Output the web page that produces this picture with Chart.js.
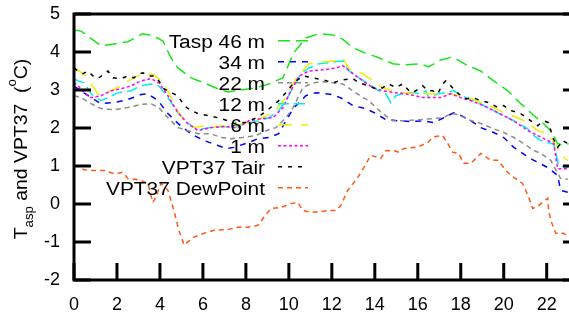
<!DOCTYPE html>
<html>
<head>
<meta charset="utf-8">
<script src="https://cdn.jsdelivr.net/npm/chart.js@4.4.1/dist/chart.umd.min.js"></script>
<style>
  html, body { margin: 0; padding: 0; background: #fff; width: 569px; height: 316px; overflow: hidden; }
  canvas { display: block; }
</style>
</head>
<body>
<canvas id="fig" width="602" height="316"></canvas>
<script>
// ----- data (hour of day, temperature degC) -----
const h46 = [0,0.33,1.26,1.86,2.51,3.2,3.72,4.14,4.51,4.84,5.44,6.05,6.7,7.16,7.53,8.47,9.07,9.72,10.23,10.79,11.4,12.05,12.5,12.98,13.44,14.19,14.84,15.35,16.14,16.5,17.07,17.63,18.33,18.93,19.53,20.19,20.79,21.4,21.81,22.19,22.51,22.79,23.02];
const t46 = [4.58,4.55,4.16,4.21,4.27,4.48,4.42,4.29,3.85,3.58,3.32,3.19,3.03,2.95,2.98,3.06,3.16,3.32,3.98,4.37,4.48,4.45,4.34,4.11,4.0,3.85,3.69,3.66,3.69,3.61,3.79,3.87,3.64,3.5,3.24,2.98,2.64,2.33,2.14,1.93,1.59,1.54,1.59];

const h34 = [0,0.19,0.79,1.26,1.86,2.51,3.12,3.44,3.91,4.37,4.84,5.44,6.05,6.7,7.07,7.44,8.14,8.56,9.07,9.53,9.86,10.23,10.79,11.26,12.05,12.5,12.98,13.58,14.05,14.51,15.12,15.67,16.28,16.74,17.21,17.67,18.0,18.47,18.93,19.53,20.0,20.47,21.02,21.4,22.05,22.51,22.65,22.98];
const t34 = [3.1,3.03,2.8,2.64,2.67,2.75,2.88,2.9,2.72,2.38,2.12,1.85,1.67,1.54,1.46,1.49,1.62,1.72,1.75,1.85,2.19,2.53,2.85,2.93,2.88,2.77,2.59,2.51,2.38,2.22,2.19,2.17,2.19,2.14,2.27,2.4,2.33,2.19,2.01,1.88,1.75,1.49,1.28,1.15,0.96,0.75,0.36,0.31];

const h22 = [0,0.33,0.79,1.26,1.86,2.51,3.12,3.58,3.95,4.37,4.84,5.3,5.77,6.37,6.84,7.3,7.86,8.47,8.93,9.4,9.86,10.19,10.65,11.12,11.58,12.05,12.51,12.98,13.44,13.72,14.05,14.37,14.84,15.3,16.14,16.74,17.21,17.53,17.9,18.33,18.93,19.53,20.0,20.47,20.93,21.4,21.72,22.19,22.51,22.65,22.98];
const t22 = [2.85,2.8,2.64,2.51,2.48,2.54,2.62,2.64,2.54,2.27,2.01,1.93,1.85,1.85,1.75,1.72,1.75,1.8,1.93,2.01,2.27,2.53,3.06,3.19,3.22,3.19,3.16,2.98,2.8,2.72,2.54,2.38,2.19,2.19,2.22,2.25,2.27,2.38,2.35,2.22,2.12,1.98,1.88,1.75,1.59,1.41,1.33,1.15,0.8,0.67,0.65];

const h12 = [0,0.19,0.47,0.79,1.26,1.58,2.05,2.65,3.12,3.58,3.95,4.37,4.84,5.3,5.77,6.37,6.98,7.44,8.0,8.6,9.07,9.53,9.86,10.19,10.56,10.93,11.4,11.86,12.51,12.79,13.26,13.72,14.19,14.51,14.74,14.98,15.44,15.81,16.14,16.37,16.51,16.93,17.4,17.67,17.9,18.33,18.79,19.26,19.72,20.19,20.65,21.12,21.4,21.72,22.05,22.33,22.56,22.98];
const t12 = [3.3,3.24,3.19,2.9,2.72,2.8,2.93,2.98,3.11,3.16,3.11,2.8,2.4,2.12,1.96,2.01,2.04,2.01,2.12,2.19,2.27,2.46,2.72,3.06,3.43,3.58,3.69,3.72,3.77,3.51,3.32,3.16,2.98,2.9,2.67,2.85,2.93,2.93,2.9,2.98,2.8,2.9,2.93,2.98,2.9,2.77,2.67,2.54,2.4,2.27,2.14,1.98,1.8,1.67,1.62,1.57,1.01,0.96];

const h6 = [0,0.23,0.56,0.79,1.12,1.4,1.72,2.19,2.51,2.98,3.44,3.72,4.05,4.37,4.74,5.12,5.58,6.05,6.37,6.84,7.3,7.86,8.47,8.93,9.26,9.86,10.33,10.93,11.58,12.19,12.51,12.79,13.44,13.91,14.37,14.84,15.3,16.14,16.74,17.53,18.33,18.93,19.53,20.0,20.65,21.12,21.58,22.05,22.51,22.79,22.98];
const t6 = [3.55,3.5,3.37,3.16,2.9,2.85,2.98,3.11,3.24,3.37,3.43,3.4,3.24,2.98,2.53,2.19,2.01,2.06,2.01,2.06,2.01,2.12,2.19,2.32,2.38,2.8,3.3,3.69,3.74,3.77,3.85,3.56,3.43,3.24,3.06,2.98,2.93,2.9,2.9,2.9,2.8,2.67,2.54,2.4,2.27,2.14,1.93,1.85,1.49,1.23,1.15];

const h1 = [0,0.19,0.47,0.79,1.26,1.72,2.19,2.65,3.12,3.58,3.95,4.37,4.84,5.3,5.77,6.37,6.98,7.63,8.14,8.79,9.26,9.72,10.09,10.47,10.93,11.58,12.19,12.51,12.98,13.44,13.91,14.37,14.98,15.44,16.28,17.07,17.53,18.0,18.47,18.93,19.53,20.19,20.65,21.12,21.58,22.05,22.33,22.51,22.98];
const t1 = [3.2,3.11,2.93,2.8,2.85,2.98,3.03,3.11,3.24,3.3,3.19,2.85,2.4,2.12,1.93,2.01,2.04,2.01,2.19,2.25,2.27,2.53,2.98,3.37,3.5,3.53,3.58,3.64,3.43,3.24,3.06,2.98,2.93,2.9,2.8,2.8,2.9,2.8,2.72,2.62,2.46,2.27,2.12,1.93,1.8,1.67,1.59,0.93,0.93];

const hTair = [0,0.19,0.42,0.65,0.88,1.12,1.4,1.58,1.81,2.19,2.51,2.79,3.02,3.21,3.44,3.72,3.95,4.19,4.51,4.84,5.12,5.44,5.77,6.23,6.7,7.16,7.44,8.0,8.6,9.07,9.53,9.86,10.23,10.65,11.12,11.58,12.05,12.51,12.98,13.26,13.72,14.05,14.37,14.65,14.98,15.3,15.67,15.91,16.23,16.47,16.7,16.93,17.16,17.3,17.53,17.9,18.23,18.56,18.93,19.3,19.72,20.0,20.33,20.79,21.26,21.58,21.86,22.09,22.28,22.51,22.74,22.98];
const tTair = [3.58,3.5,3.43,3.5,3.37,3.3,3.43,3.5,3.32,3.3,3.37,3.32,3.43,3.45,3.37,3.37,3.24,3.03,2.93,2.85,2.59,2.46,2.38,2.33,2.27,2.19,2.12,2.15,2.3,2.5,2.72,2.93,3.19,3.37,3.32,3.27,3.19,3.27,3.3,3.19,3.11,3.03,3.06,3.16,3.06,3.16,2.93,2.98,3.11,2.98,2.98,2.9,3.16,3.24,3.11,2.9,2.77,2.8,2.72,2.67,2.54,2.59,2.46,2.38,2.19,2.06,2.19,2.14,1.75,1.49,1.67,1.59];

const hDew = [0,0.19,0.47,0.79,1.4,1.86,2.28,2.51,2.88,3.12,3.44,3.67,3.81,4.05,4.37,4.65,4.88,5.12,5.58,6.05,6.51,7.16,7.63,8.09,8.56,8.84,9.16,9.63,10.09,10.42,10.65,11.02,11.49,11.86,12.19,12.42,12.74,13.21,13.49,13.81,14.28,14.51,14.84,15.12,15.35,16.0,16.47,16.74,17.16,17.4,17.63,17.9,18.14,18.47,18.93,19.4,19.72,20.19,20.47,20.88,21.16,21.35,21.63,22.05,22.09,22.19,22.42,22.79,23.02];
const tDew = [1.0,0.99,0.9,0.88,0.88,0.8,0.83,0.67,0.65,0.62,0.54,0.04,0.18,0.54,0.36,-0.17,-0.69,-1.08,-0.87,-0.77,-0.69,-0.67,-0.61,-0.61,-0.56,-0.35,-0.12,-0.09,0.01,0.04,-0.17,-0.22,-0.2,-0.17,-0.17,-0.04,0.36,0.7,0.96,1.28,1.2,1.4,1.41,1.36,1.46,1.5,1.62,1.77,1.8,1.59,1.36,1.33,1.07,1.07,1.33,1.15,1.15,0.83,0.7,0.54,0.18,-0.12,-0.04,0.15,-0.17,-0.43,-0.77,-0.77,-0.87];

const seriesNames = ['Tasp 46 m', '34 m', '22 m', '12 m', '6 m', '1 m', 'VPT37 Tair', 'VPT37 DewPoint'];
const xTicks = [0, 2, 4, 6, 8, 10, 12, 14, 16, 18, 20, 22];
const yTicks = [-2, -1, 0, 1, 2, 3, 4, 5];

// ----- styles -----
const styles = [
  { color: '#19e619', dash: [12, 6] },
  { color: '#0000ff', dash: [6, 6] },
  { color: '#8c8c8c', dash: [5, 4] },
  { color: '#00eeee', dash: [11, 5] },
  { color: '#eeee00', dash: [14, 9] },
  { color: '#ff00ff', dash: [3, 2.5] },
  { color: '#000000', dash: [4, 6] },
  { color: '#ff5a14', dash: [5, 4] },
];

const xs = [h46, h34, h22, h12, h6, h1, hTair, hDew];
const ys = [t46, t34, t22, t12, t6, t1, tTair, tDew];

const datasets = seriesNames.map((name, i) => ({
  label: name,
  data: xs[i].map((x, k) => ({ x, y: ys[i][k] })),
  borderColor: styles[i].color,
  borderDash: styles[i].dash,
  borderWidth: 1.5,
  pointRadius: 0,
  fill: false,
  tension: 0,
  order: seriesNames.length - i
}));

const FONT = '"Liberation Sans", Arial, Helvetica, sans-serif';
const STRETCH = 1.16;

// 틱(안쪽), 프레임, 범례, y축 제목 그리기
const framePlugin = {
  id: 'frame',
  afterDatasetsDraw(chart) {
    const ctx = chart.ctx;
    const { left, right, top, bottom } = chart.chartArea;
    const xs = chart.scales.x, ys = chart.scales.y;

    ctx.save();
    ctx.strokeStyle = '#000';
    ctx.lineWidth = 3;
    ctx.setLineDash([]);
    ctx.lineCap = 'butt';
    // frame
    ctx.beginPath();
    ctx.moveTo(left, top); ctx.lineTo(right, top);
    ctx.lineTo(right, bottom); ctx.lineTo(left, bottom);
    ctx.closePath();
    ctx.stroke();
    // inward ticks
    const tl = 17;
    ctx.beginPath();
    yTicks.forEach(v => {
      const py = ys.getPixelForValue(v);
      ctx.moveTo(left, py); ctx.lineTo(left + tl, py);
      ctx.moveTo(right, py); ctx.lineTo(right - tl, py);
    });
    xTicks.forEach(v => {
      const px = xs.getPixelForValue(v);
      ctx.moveTo(px, bottom); ctx.lineTo(px, bottom - tl);
    });
    ctx.stroke();

    // key
    ctx.font = '18px ' + FONT;
    ctx.fillStyle = '#000';
    ctx.textAlign = 'right';
    ctx.textBaseline = 'alphabetic';
    chart.data.datasets.forEach((ds, i) => {
      const cy = 41.7 + 21 * i;
      ctx.save();
      ctx.translate(265, cy + 6.6);
      ctx.scale(STRETCH, 1);
      ctx.fillText(ds.label, 0, 0);
      ctx.restore();
      ctx.save();
      ctx.strokeStyle = ds.borderColor;
      ctx.lineWidth = 1.5;
      ctx.setLineDash(ds.borderDash);
      ctx.beginPath();
      ctx.moveTo(278, cy - 1);
      ctx.lineTo(308, cy - 1);
      ctx.stroke();
      ctx.restore();
    });
    ctx.restore();
  },
  afterDraw(chart) {
    const ctx = chart.ctx;
    const parts = [
      { t: 'T', size: 19, dy: 0 },
      { t: 'asp', size: 13, dy: 6 },
      { t: ' and VPT37  (', size: 19, dy: 0 },
      { t: 'o', size: 13, dy: -11 },
      { t: 'C)', size: 19, dy: 0 },
    ];
    ctx.save();
    ctx.fillStyle = '#000';
    ctx.textAlign = 'left';
    ctx.textBaseline = 'alphabetic';
    let total = 0;
    parts.forEach(p => { ctx.font = p.size + 'px ' + FONT; p.w = ctx.measureText(p.t).width; total += p.w; });
    ctx.translate(27, 149);
    ctx.rotate(-Math.PI / 2);
    ctx.scale(1.02, 1);
    let x = -total / 2;
    parts.forEach(p => {
      ctx.font = p.size + 'px ' + FONT;
      ctx.fillText(p.t, x, p.dy);
      x += p.w;
    });
    ctx.restore();
  }
};

const chart = new Chart(document.getElementById('fig'), {
  type: 'line',
  data: { datasets },
  options: {
    responsive: false,
    animation: false,
    events: [],
    layout: { padding: { left: 0, right: 22, top: 14, bottom: 0 } },
    plugins: { legend: { display: false }, tooltip: { enabled: false } },
    scales: {
      x: {
        type: 'linear',
        min: 0,
        max: 23.55,
        afterBuildTicks: s => { s.ticks = xTicks.map(v => ({ value: v })); },
        afterFit: s => { s.height = 36; s.paddingLeft = 0; s.paddingRight = 0; },
        grid: { display: false, drawTicks: false },
        border: { display: false },
        ticks: { color: '#000', font: { family: FONT, size: 18 }, padding: 14, maxRotation: 0, autoSkip: false }
      },
      y: {
        type: 'linear',
        min: -2,
        max: 5,
        afterBuildTicks: s => { s.ticks = yTicks.map(v => ({ value: v })); },
        afterFit: s => { s.width = 74; s.paddingTop = 0; s.paddingBottom = 0; },
        grid: { display: false, drawTicks: false },
        border: { display: false },
        ticks: { color: '#000', font: { family: FONT, size: 18 }, padding: 14 }
      }
    }
  },
  plugins: [framePlugin]
});
</script>
</body>
</html>
